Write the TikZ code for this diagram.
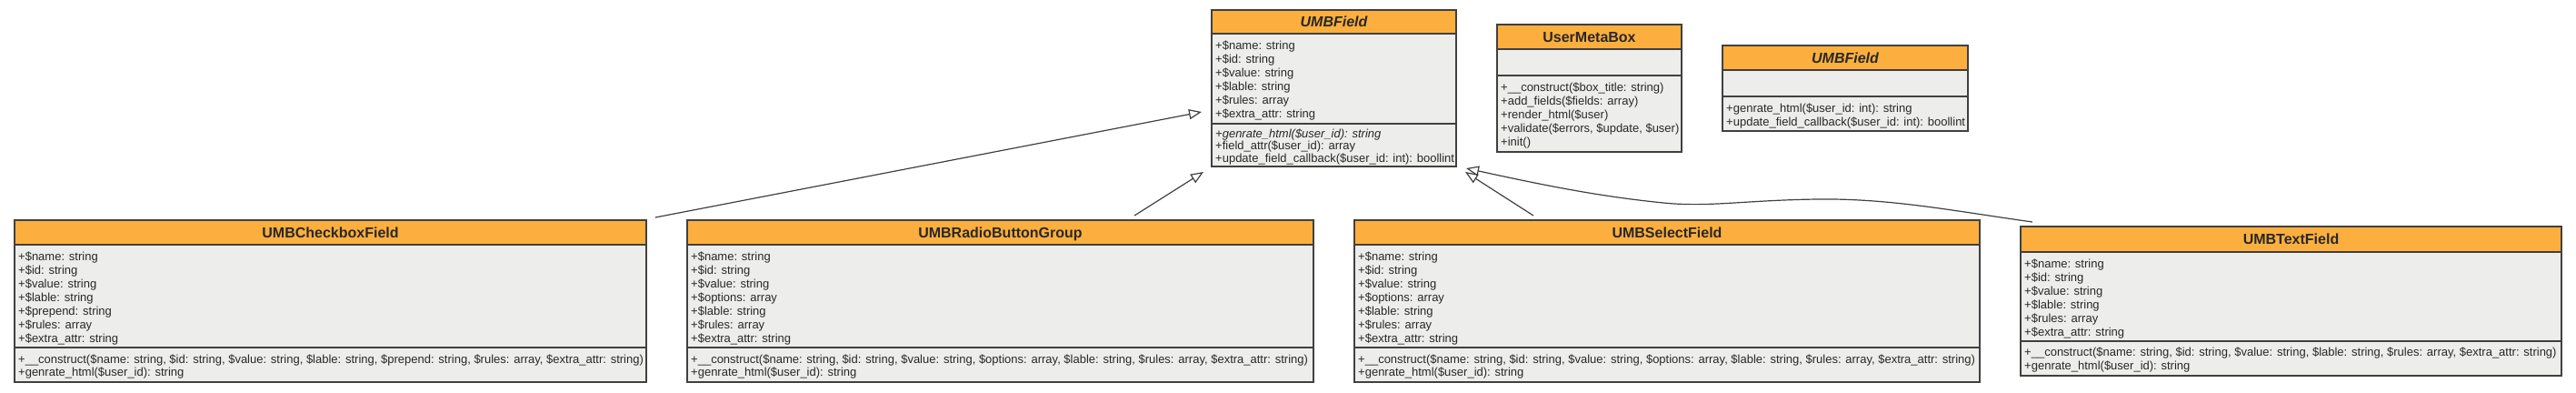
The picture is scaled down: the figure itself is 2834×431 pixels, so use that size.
\documentclass[tikz,border=0pt]{standalone}
\usepackage{fontspec}
\setmainfont{Liberation Sans}
\usetikzlibrary{arrows.meta}
\definecolor{hdr}{RGB}{252,175,62}
\definecolor{bodyc}{RGB}{237,237,235}
\definecolor{edgec}{RGB}{64,64,64}
\definecolor{txt}{RGB}{40,40,40}
\tikzset{
  classbody/.style={fill=bodyc, rectangle, inner sep=0pt, outer sep=0pt, anchor=north west},
  border/.style={draw=edgec, line width=1.4pt},
  titletext/.style={anchor=base, inner sep=0pt, text=txt, font=\fontsize{16}{19}\selectfont\bfseries},
  member/.style={anchor=base west, inner sep=0pt, text=txt, font=\fontsize{13}{15}\selectfont},
  inherit/.style={draw=edgec, line width=1.2pt, -{Triangle[open, length=14pt, width=11pt]}}
}
\newcommand\umlclass[8]{%
  \node[classbody, minimum width={#4-#2}, minimum height={#5-#3}] (#1) at (#2,#3) {};
  \fill[hdr] (#2,#3) rectangle (#4,#6);
  \draw[border] (#2,#6) -- (#4,#6) (#2,#7) -- (#4,#7);
  \draw[border] (#2,#3) rectangle (#4,#5);
  \node[titletext] (#1-t) at ({(#2+#4)/2}, {(#3+#6)/2+5.7}) {#8};
}
\newcommand\mlines[5]{%
  \foreach \t [count=\i] in {#5} {
    \node[member] (#1\i) at ({#2}, {#3+(\i-1)*#4}) {\t};
  }
}
\begin{document}
\begin{tikzpicture}[x=1pt,y=-1pt]
\fill[white] (0,0) rectangle (2834,431);
\useasboundingbox (0,0) rectangle (2834,431);

% UMBField (main)
\umlclass{fa}{1333}{11}{1602}{183}{37}{136}{\itshape UMBField}
\mlines{fa-a}{1337}{54}{15}{{+\$name: string},{+\$id: string},{+\$value: string},{+\$lable: string},{+\$rules: array},{+\$extra\_attr: string}}
\mlines{fa-m}{1337}{151}{13.5}{{\itshape +genrate\_html(\$user\_id): string},{+field\_attr(\$user\_id): array},{+update\_field\_callback(\$user\_id: int): boollint}}

% UserMetaBox
\umlclass{meta}{1647}{27}{1850}{167}{54}{83}{UserMetaBox}
\mlines{meta-m}{1651}{100.5}{15}{{+\_\_construct(\$box\_title: string)},{+add\_fields(\$fields: array)},{+render\_html(\$user)},{+validate(\$errors, \$update, \$user)},{+init()}}

% UMBField (second)
\umlclass{fb}{1895}{50}{2165}{144}{77}{106}{\itshape UMBField}
\mlines{fb-m}{1899}{123.3}{15}{{+genrate\_html(\$user\_id: int): string},{+update\_field\_callback(\$user\_id: int): boollint}}

% UMBCheckboxField
\umlclass{chk}{16}{242}{711}{420}{269}{382}{UMBCheckboxField}
\mlines{chk-a}{20}{286}{15}{{+\$name: string},{+\$id: string},{+\$value: string},{+\$lable: string},{+\$prepend: string},{+\$rules: array},{+\$extra\_attr: string}}
\mlines{chk-m}{20}{399}{14.5}{{+\_\_construct(\$name: string, \$id: string, \$value: string, \$lable: string, \$prepend: string, \$rules: array, \$extra\_attr: string)},{+genrate\_html(\$user\_id): string}}

% UMBRadioButtonGroup
\umlclass{rad}{756}{242}{1445}{420}{269}{382}{UMBRadioButtonGroup}
\mlines{rad-a}{760}{286}{15}{{+\$name: string},{+\$id: string},{+\$value: string},{+\$options: array},{+\$lable: string},{+\$rules: array},{+\$extra\_attr: string}}
\mlines{rad-m}{760}{399}{14.5}{{+\_\_construct(\$name: string, \$id: string, \$value: string, \$options: array, \$lable: string, \$rules: array, \$extra\_attr: string)},{+genrate\_html(\$user\_id): string}}

% UMBSelectField
\umlclass{sel}{1490}{242}{2178}{420}{269}{382}{UMBSelectField}
\mlines{sel-a}{1494}{286}{15}{{+\$name: string},{+\$id: string},{+\$value: string},{+\$options: array},{+\$lable: string},{+\$rules: array},{+\$extra\_attr: string}}
\mlines{sel-m}{1494}{399}{14.5}{{+\_\_construct(\$name: string, \$id: string, \$value: string, \$options: array, \$lable: string, \$rules: array, \$extra\_attr: string)},{+genrate\_html(\$user\_id): string}}

% UMBTextField
\umlclass{txf}{2223}{249}{2818}{413}{277}{375}{UMBTextField}
\mlines{txf-a}{2227}{294}{15}{{+\$name: string},{+\$id: string},{+\$value: string},{+\$lable: string},{+\$rules: array},{+\$extra\_attr: string}}
\mlines{txf-m}{2227}{391.5}{15}{{+\_\_construct(\$name: string, \$id: string, \$value: string, \$lable: string, \$rules: array, \$extra\_attr: string)},{+genrate\_html(\$user\_id): string}}

% connector end points
\coordinate (chk-s) at (721,239);
\coordinate (fa-e1) at (1322,123);
\coordinate (rad-s) at (1248,237);
\coordinate (fa-e2) at (1324,189);
\coordinate (sel-s) at (1687,237);
\coordinate (fa-e3) at (1612,189);
\coordinate (txf-s) at (2236,244);
\coordinate (fa-e4) at (1613,185);

\draw[inherit] (chk-s) -- (fa-e1);
\draw[inherit] (rad-s) -- (fa-e2);
\draw[inherit] (sel-s) -- (fa-e3);
\draw[inherit] (txf-s) .. controls (2150,232) and (2080,218) .. (2000,219)
  .. controls (1920,220) and (1880,228) .. (1830,223)
  .. controls (1760,216) and (1700,204) .. (fa-e4);
\end{tikzpicture}
\end{document}
